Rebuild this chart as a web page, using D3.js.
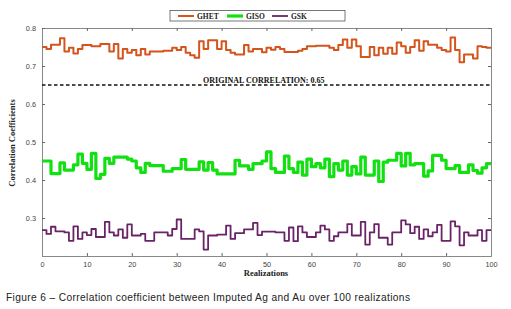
<!DOCTYPE html>
<html><head><meta charset="utf-8">
<script src="https://cdn.jsdelivr.net/npm/d3@7"></script>
<style>body{margin:0;background:#fff;}svg{display:block;}</style>
</head><body>
<svg id="c" width="511" height="309"></svg>
<script>
const seriesNames = ["GHET", "GISO", "GSK"];
const seriesColors = ["#d4541c", "#12e012", "#6a2366"];
const xTicks = [0,10,20,30,40,50,60,70,80,90,100];
const yTicks = [0.3,0.4,0.5,0.6,0.7,0.8];
const originalCorrelation = 0.65;
const ghet = [0.75,0.745,0.756,0.756,0.773,0.738,0.748,0.733,0.745,0.755,
0.755,0.752,0.752,0.758,0.758,0.738,0.758,0.72,0.745,0.735,
0.742,0.728,0.745,0.73,0.738,0.738,0.738,0.74,0.74,0.748,
0.742,0.75,0.735,0.728,0.722,0.765,0.745,0.768,0.768,0.745,
0.765,0.742,0.735,0.73,0.73,0.755,0.738,0.745,0.745,0.736,
0.748,0.743,0.75,0.745,0.737,0.737,0.737,0.74,0.745,0.752,
0.752,0.753,0.753,0.753,0.748,0.742,0.755,0.77,0.748,0.77,
0.752,0.724,0.724,0.75,0.728,0.748,0.732,0.748,0.732,0.762,
0.752,0.735,0.75,0.768,0.74,0.765,0.756,0.756,0.748,0.742,
0.738,0.775,0.742,0.71,0.73,0.73,0.72,0.752,0.75,0.748];
const giso = [0.45,0.45,0.417,0.417,0.445,0.426,0.426,0.44,0.468,0.444,
0.428,0.47,0.404,0.415,0.457,0.444,0.46,0.46,0.46,0.455,
0.45,0.432,0.42,0.444,0.438,0.438,0.438,0.423,0.423,0.43,
0.43,0.454,0.428,0.428,0.428,0.448,0.426,0.446,0.426,0.416,
0.416,0.416,0.416,0.452,0.437,0.437,0.428,0.443,0.443,0.45,
0.474,0.43,0.42,0.42,0.463,0.43,0.42,0.447,0.413,0.455,
0.435,0.443,0.432,0.455,0.409,0.443,0.426,0.45,0.413,0.435,
0.416,0.46,0.413,0.413,0.45,0.396,0.447,0.452,0.452,0.47,
0.437,0.47,0.44,0.443,0.443,0.41,0.424,0.465,0.465,0.452,
0.43,0.43,0.438,0.42,0.42,0.44,0.425,0.418,0.432,0.443];
const gsk = [0.268,0.258,0.277,0.265,0.265,0.262,0.24,0.278,0.245,0.262,
0.255,0.271,0.25,0.25,0.29,0.262,0.254,0.27,0.248,0.283,
0.254,0.254,0.258,0.24,0.24,0.262,0.262,0.262,0.254,0.271,
0.296,0.245,0.245,0.245,0.27,0.265,0.217,0.254,0.254,0.256,
0.256,0.28,0.245,0.26,0.26,0.27,0.27,0.287,0.255,0.264,
0.264,0.264,0.262,0.262,0.24,0.275,0.239,0.278,0.262,0.25,
0.25,0.262,0.28,0.27,0.24,0.252,0.262,0.262,0.284,0.254,
0.254,0.29,0.23,0.262,0.284,0.248,0.248,0.23,0.262,0.262,
0.294,0.283,0.26,0.277,0.245,0.27,0.252,0.262,0.282,0.24,
0.24,0.291,0.278,0.228,0.262,0.254,0.254,0.268,0.24,0.268];
const seriesData = [ghet, giso, gsk];
const seriesWidths = [2, 3.2, 1.8];

const svg = d3.select("#c");
const L = 42, R = 491, T = 28, B = 256;
const x = d3.scaleLinear().domain([0,100]).range([L,R]);
const y = d3.scaleLinear().domain([0.2,0.8]).range([B,T]);
const serif = "'Liberation Serif','Times New Roman',serif";
const sans = "'Liberation Sans',Arial,sans-serif";

// axes (box with inner ticks)
const gx = svg.append("g").attr("transform",`translate(0,${B})`)
  .call(d3.axisBottom(x).tickValues(xTicks).tickSize(-3).tickPadding(6).tickFormat(d3.format("d")));
const gxt = svg.append("g").attr("transform",`translate(0,${T})`)
  .call(d3.axisTop(x).tickValues(xTicks).tickSize(-3).tickFormat(""));
const gy = svg.append("g").attr("transform",`translate(${L},0)`)
  .call(d3.axisLeft(y).tickValues(yTicks).tickSize(-3).tickPadding(6).tickFormat(d3.format(".1f")));
const gyr = svg.append("g").attr("transform",`translate(${R},0)`)
  .call(d3.axisRight(y).tickValues(yTicks).tickSize(-3).tickFormat(""));
[gx,gxt,gy,gyr].forEach(g=>{
  g.selectAll("path.domain").attr("stroke","#888").attr("stroke-width",1);
  g.selectAll(".tick line").attr("stroke","#666");
  g.selectAll("text").attr("font-family",sans).attr("font-size",7.3).attr("fill","#444");
});

// dashed original correlation
svg.append("line").attr("x1",x(0)).attr("x2",x(100))
  .attr("y1",y(originalCorrelation)).attr("y2",y(originalCorrelation))
  .attr("stroke","#111").attr("stroke-width",1.3).attr("stroke-dasharray","3.5,2.5");
svg.append("text").attr("x",x(49.4)).attr("y",y(originalCorrelation)-2.5)
  .attr("text-anchor","middle").attr("font-family",serif).attr("font-weight","bold")
  .attr("font-size",8).attr("fill","#111").text("ORIGINAL CORRELATION: "+originalCorrelation);

// step lines
const line = d3.line().curve(d3.curveStepAfter).x(d=>x(d[0])).y(d=>y(d[1]));
seriesData.forEach((arr,i)=>{
  const pts = arr.map((v,j)=>[j,v]);
  pts.push([100, arr[arr.length-1]]);
  svg.append("path").datum(pts).attr("d",line).attr("fill","none")
    .attr("stroke",seriesColors[i]).attr("stroke-width",seriesWidths[i])
    .attr("stroke-linejoin","round");
});

// legend
const lg = svg.append("g");
lg.append("rect").attr("x",170).attr("y",10.5).attr("width",175).attr("height",10.5)
  .attr("fill","#fff").attr("stroke","#555").attr("stroke-width",0.8);
const legX = [178, 227, 272];
seriesNames.forEach((n,i)=>{
  lg.append("line").attr("x1",legX[i]).attr("x2",legX[i]+16).attr("y1",16).attr("y2",16)
    .attr("stroke",seriesColors[i]).attr("stroke-width",seriesWidths[i]);
  lg.append("text").attr("x",legX[i]+19).attr("y",18.6).attr("font-family",serif)
    .attr("font-weight","bold").attr("font-size",7.5).attr("fill","#222").text(n);
});

// axis titles
svg.append("text").attr("x",266).attr("y",276).attr("text-anchor","middle")
  .attr("font-family",serif).attr("font-weight","bold").attr("font-size",8.5).attr("fill","#222")
  .text("Realizations");
svg.append("text").attr("transform",`translate(15,143) rotate(-90)`)
  .attr("text-anchor","middle").attr("font-family",serif).attr("font-weight","bold")
  .attr("font-size",8.5).attr("fill","#222").text("Correlation Coefficients");

// caption
svg.append("text").attr("x",6).attr("y",300.5).attr("font-family",sans)
  .attr("font-size",10.2).attr("fill","#222")
  .attr("textLength",404).attr("lengthAdjust","spacing")
  .text("Figure 6 \u2013 Correlation coefficient between Imputed Ag and Au over 100 realizations");
</script>
</body></html>
